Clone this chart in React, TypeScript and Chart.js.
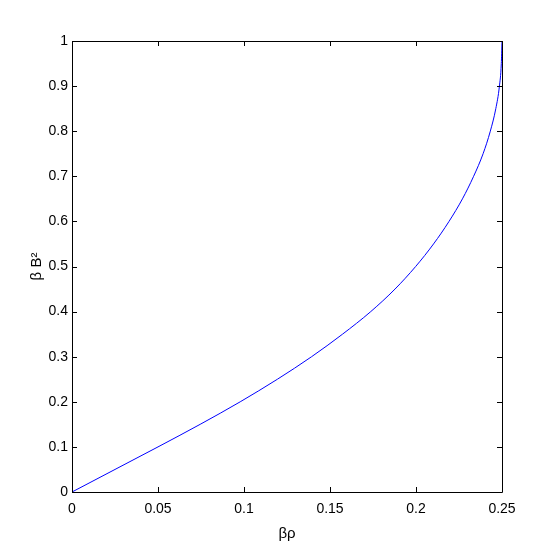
import React, { useEffect, useRef } from "react";
import { Chart, registerables } from "chart.js";

Chart.register(...registerables);

// Curve (βρ, βB²)
const betaRho = [0, 0.025, 0.05, 0.0745, 0.0978, 0.1194, 0.1393, 0.1573, 0.1737, 0.1878, 0.1998, 0.2102, 0.2192, 0.227, 0.2335, 0.239, 0.2432, 0.2464, 0.2485, 0.2496, 0.25];
const betaB2 = [0, 0.05, 0.1, 0.15, 0.2, 0.25, 0.3, 0.35, 0.4, 0.45, 0.5, 0.55, 0.6, 0.65, 0.7, 0.75, 0.8, 0.85, 0.9, 0.95, 1.0];

const xTicks = [0, 0.05, 0.1, 0.15, 0.2, 0.25];
const xTickLabels = ["0", "0.05", "0.1", "0.15", "0.2", "0.25"];
const yTicks = [0, 0.1, 0.2, 0.3, 0.4, 0.5, 0.6, 0.7, 0.8, 0.9, 1];
const yTickLabels = ["0", "0.1", "0.2", "0.3", "0.4", "0.5", "0.6", "0.7", "0.8", "0.9", "1"];

const xTitle = "βρ";
const yTitle = "β B²";

const FONT = '"Liberation Sans", Arial, Helvetica, sans-serif';

const boxPlugin = {
  id: "matlabBox",
  afterDraw(chart: any) {
    const { ctx, chartArea } = chart;
    const { left, right, top, bottom } = chartArea;
    const xs = chart.scales.x;
    const ys = chart.scales.y;
    const tl = 5;
    ctx.save();
    ctx.strokeStyle = "#000";
    ctx.lineWidth = 1;
    ctx.beginPath();
    ctx.rect(Math.round(left) + 0.5, Math.round(top) + 0.5, Math.round(right - left), Math.round(bottom - top));
    ctx.stroke();
    ctx.beginPath();
    xs.ticks.forEach((t: any) => {
      const px = Math.round(xs.getPixelForValue(t.value)) + 0.5;
      ctx.moveTo(px, bottom);
      ctx.lineTo(px, bottom - tl);
      ctx.moveTo(px, top);
      ctx.lineTo(px, top + tl);
    });
    ys.ticks.forEach((t: any) => {
      const py = Math.round(ys.getPixelForValue(t.value)) + 0.5;
      ctx.moveTo(left, py);
      ctx.lineTo(left + tl, py);
      ctx.moveTo(right, py);
      ctx.lineTo(right - tl, py);
    });
    ctx.stroke();
    ctx.restore();
  },
};

export default function App() {
  const ref = useRef<HTMLCanvasElement | null>(null);

  useEffect(() => {
    if (!ref.current) return;
    const pts = betaRho.map((x, i) => ({ x, y: betaB2[i] }));
    const chart = new Chart(ref.current, {
      type: "line",
      data: {
        datasets: [
          {
            data: pts,
            borderColor: "rgb(0,0,255)",
            borderWidth: 1,
            pointRadius: 0,
            cubicInterpolationMode: "monotone",
            fill: false,
          },
        ],
      },
      options: {
        responsive: false,
        animation: false,
        layout: { padding: { left: 0, right: 52, top: 41, bottom: 0 } },
        plugins: { legend: { display: false }, tooltip: { enabled: false } },
        scales: {
          x: {
            type: "linear",
            min: 0,
            max: 0.25,
            grid: { display: false, drawTicks: false, tickLength: 0 },
            border: { display: false },
            afterBuildTicks: (s: any) => {
              s.ticks = xTicks.map((v) => ({ value: v }));
            },
            afterFit: (s: any) => {
              s.height = 62;
            },
            ticks: {
              color: "#000",
              padding: 9,
              maxRotation: 0,
              font: { family: FONT, size: 14 },
              callback: (v: any, i: number) => xTickLabels[i],
            },
            title: {
              display: true,
              text: xTitle,
              color: "#000",
              font: { family: FONT, size: 15 },
              padding: { top: 0, bottom: 11 },
            },
          },
          y: {
            type: "linear",
            min: 0,
            max: 1,
            grid: { display: false, drawTicks: false, tickLength: 0 },
            border: { display: false },
            afterBuildTicks: (s: any) => {
              s.ticks = yTicks.map((v) => ({ value: v }));
            },
            afterFit: (s: any) => {
              s.width = 72;
            },
            ticks: {
              color: "#000",
              padding: 4,
              font: { family: FONT, size: 14 },
              callback: (v: any, i: number) => yTickLabels[i],
            },
            title: {
              display: true,
              text: yTitle,
              color: "#000",
              font: { family: FONT, size: 15 },
              padding: { top: 28, bottom: 0 },
            },
          },
        },
      },
      plugins: [boxPlugin],
    });
    return () => chart.destroy();
  }, []);

  return (
    <div style={{ position: "absolute", left: 0, top: 0, width: 554, height: 554, background: "#fff" }}>
      <canvas ref={ref} width={554} height={554} style={{ width: 554, height: 554, display: "block" }} />
    </div>
  );
}
